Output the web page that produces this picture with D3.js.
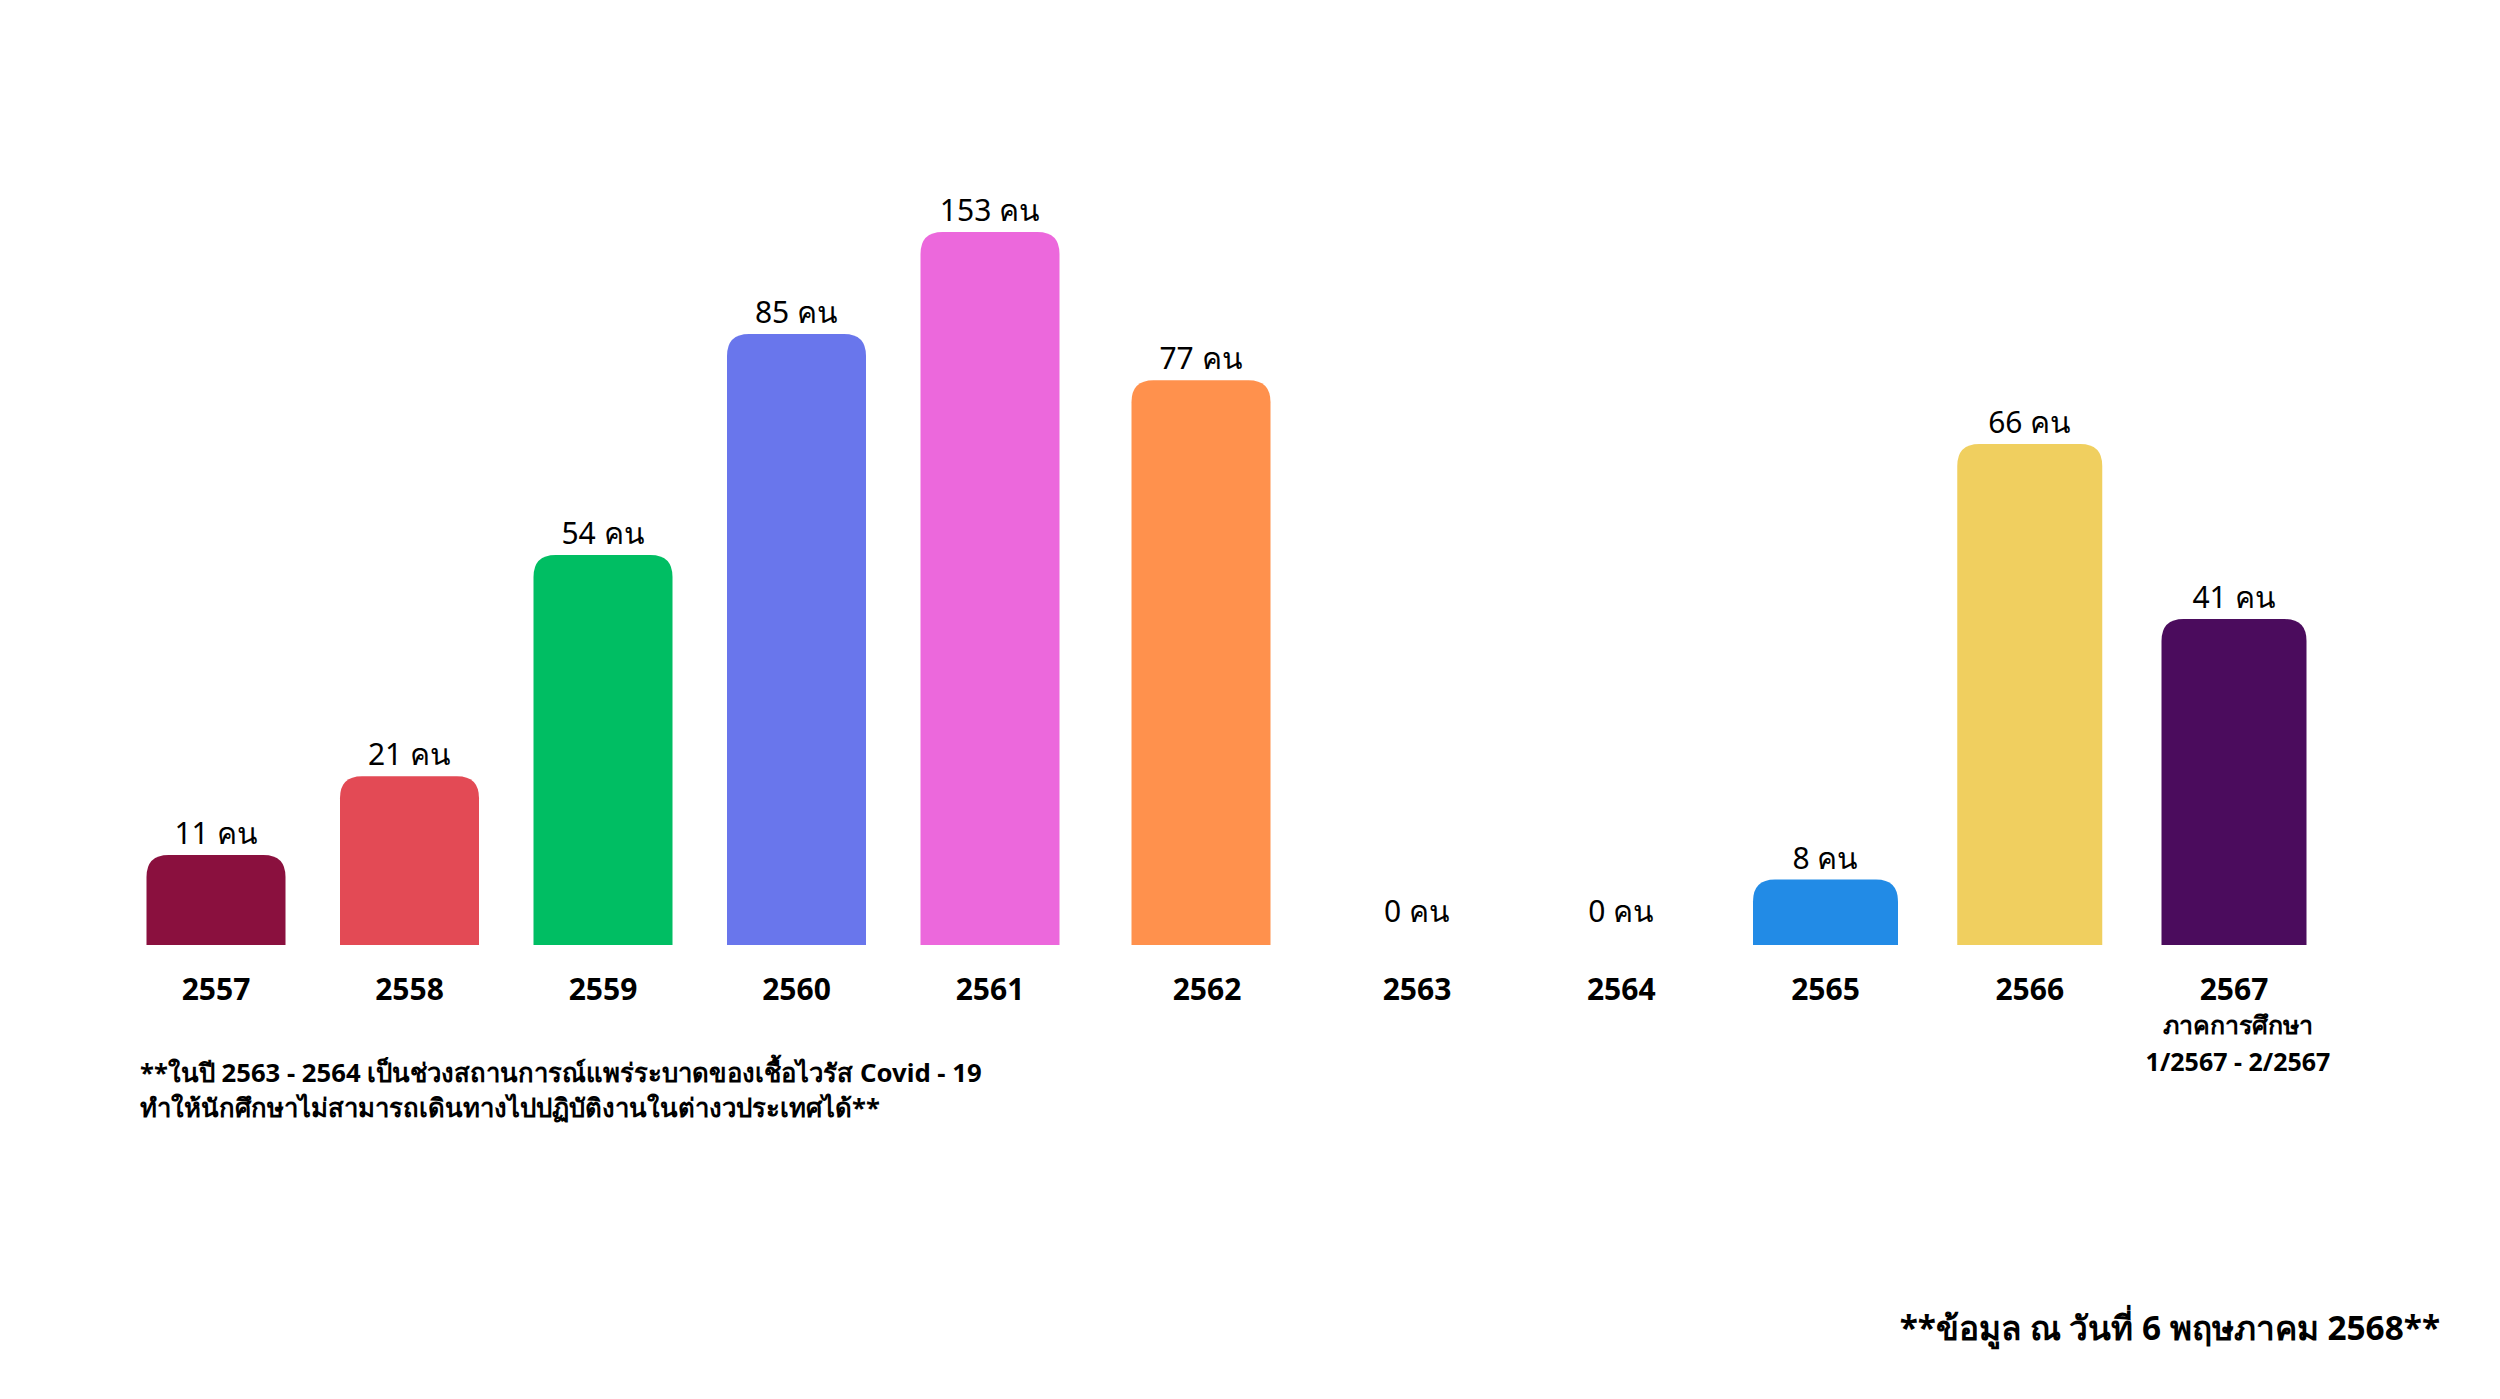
<!DOCTYPE html>
<html><head><meta charset="utf-8">
<script src="https://cdn.jsdelivr.net/npm/d3@7"></script>
<style>body{margin:0;background:#fff}</style>
</head><body>
<svg id="chart" width="2500" height="1399"></svg>
<script>
// ---- data ----
const years = ["2557","2558","2559","2560","2561","2562","2563","2564","2565","2566","2567"];
const counts = [11, 21, 54, 85, 153, 77, 0, 0, 8, 66, 41];
const barColors = ["#8A103E","#E34A55","#00BE63","#6976EC","#EC68DC","#FF914D","#cccccc","#cccccc","#228BE6","#F0CF5F","#4B0C5D"];
const unitLabel = "คน";
const lastYearSub = ["ภาคการศึกษา", "1/2567 - 2/2567"];
const noteLines = [
  "**ในปี 2563 - 2564 เป็นช่วงสถานการณ์แพร่ระบาดของเชื้อไวรัส Covid - 19",
  "ทำให้นักศึกษาไม่สามารถเดินทางไปปฏิบัติงานในต่างวประเทศได้**"
];
const asOfNote = "**ข้อมูล ณ วันที่ 6 พฤษภาคม 2568**";

// ---- layout ----
const svg = d3.select("#chart");
const baseline = 945;
// category positions (the original graphic spaces the groups unevenly)
const x = d3.scaleLinear().domain([0, 4, 5, 6, 10]).range([216, 990, 1201, 1417, 2234]);
// bar heights (the original graphic is not drawn to a linear scale; tall bars are compressed)
const y = d3.scaleLinear().domain([0, 11, 41, 54, 66, 85, 153]).range([baseline, 855, 619, 555, 444, 334, 232]);
const barW = i => (i < 6 ? 139 : 145);
const r = 22;

function topRounded(cx, top, w, bottom, rad) {
  const x0 = cx - w / 2, x1 = cx + w / 2;
  const rr = Math.min(rad, (bottom - top));
  const p = d3.path();
  p.moveTo(x0, bottom);
  p.lineTo(x0, top + rr);
  p.quadraticCurveTo(x0, top, x0 + rr, top);
  p.lineTo(x1 - rr, top);
  p.quadraticCurveTo(x1, top, x1, top + rr);
  p.lineTo(x1, bottom);
  p.closePath();
  return p.toString();
}

const data = years.map((yr, i) => ({ yr, v: counts[i], c: barColors[i], i }));

svg.append("g").selectAll("path")
  .data(data.filter(d => d.v > 0))
  .join("path")
  .attr("d", d => topRounded(x(d.i), y(d.v), barW(d.i), y(0), r))
  .attr("fill", d => d.c);

const labelFont = "'Noto Sans', 'Open Sans', sans-serif";
const boldFont = "'Noto Sans', 'Open Sans', sans-serif";

svg.append("g").selectAll("text")
  .data(data)
  .join("text")
  .attr("x", d => x(d.i))
  .attr("y", d => Math.min(y(d.v) - 11, baseline - 23))
  .attr("text-anchor", "middle")
  .attr("font-family", labelFont)
  .attr("font-size", 30)
  .attr("fill", "#000")
  .text(d => `${d.v} ${unitLabel}`);

svg.append("g").selectAll("text")
  .data(data)
  .join("text")
  .attr("x", d => x(d.i) + (d.i === 5 ? 6 : 0))
  .attr("y", 1000)
  .attr("text-anchor", "middle")
  .attr("font-family", boldFont)
  .attr("font-weight", 700)
  .attr("font-size", 30)
  .attr("fill", "#000")
  .text(d => d.yr);

svg.append("g").selectAll("text")
  .data(lastYearSub)
  .join("text")
  .attr("x", x(10) + 4)
  .attr("y", (d, k) => 1034 + k * 37)
  .attr("text-anchor", "middle")
  .attr("font-family", boldFont)
  .attr("font-weight", 700)
  .attr("font-size", 25)
  .attr("fill", "#000")
  .text(d => d);

svg.append("g").selectAll("text")
  .data(noteLines)
  .join("text")
  .attr("x", 140)
  .attr("y", (d, k) => 1082 + k * 35)
  .attr("font-family", boldFont)
  .attr("font-weight", 700)
  .attr("font-size", 25.7)
  .attr("fill", "#000")
  .text(d => d);

svg.append("text")
  .attr("x", 2440)
  .attr("y", 1340)
  .attr("text-anchor", "end")
  .attr("font-family", boldFont)
  .attr("font-weight", 700)
  .attr("font-size", 33.4)
  .attr("fill", "#000")
  .text(asOfNote);
</script>
</body></html>
